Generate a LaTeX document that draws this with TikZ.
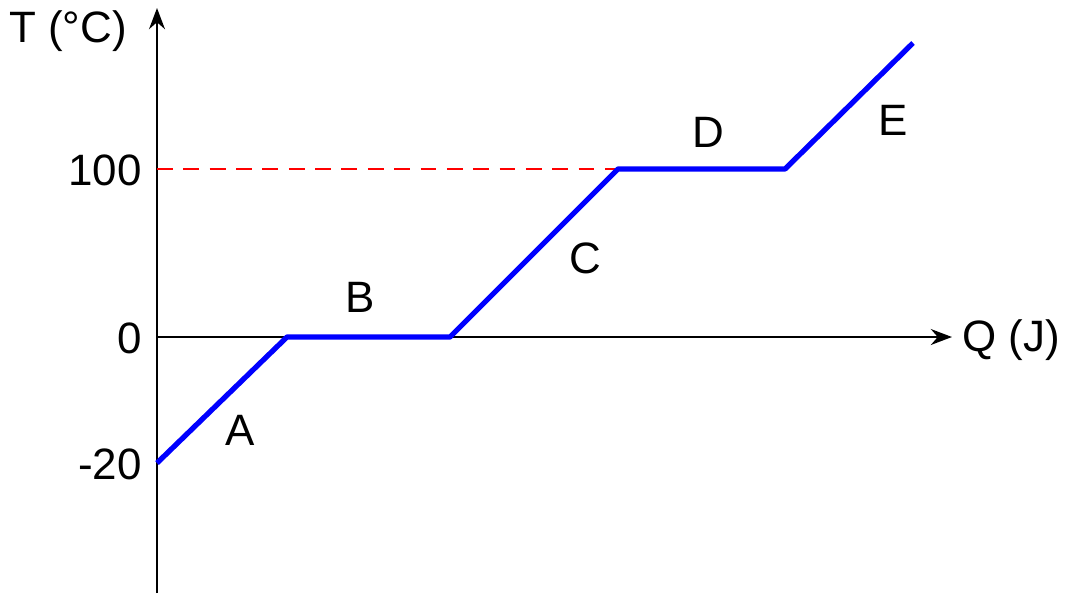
\documentclass[tikz,border=0pt]{standalone}
\usepackage{fontspec}
\setmainfont{Liberation Sans}
\usetikzlibrary{arrows.meta}
\begin{document}
\begin{tikzpicture}[x=0.02cm,y=-0.02cm,
  lbl/.style={font=\fontsize{25}{28}\selectfont,inner sep=0pt},
  ax/.style={line width=1.6pt,-{Stealth[length=12pt,width=9pt]}},
  curve/.style={blue,line width=3pt,line join=round}]
\useasboundingbox (0,0) rectangle (1074,596);
\coordinate (o) at (157,337);
\coordinate (ybot) at (157,593);
\coordinate (ytop) at (157,8);
\coordinate (xend) at (952,337);
\coordinate (p0) at (157,463);
\coordinate (p1) at (287,337);
\coordinate (p2) at (450,337);
\coordinate (p3) at (618,169);
\coordinate (p4) at (785,169);
\coordinate (p5) at (913,43);
\coordinate (d0) at (157,169);
\draw[ax] (ybot) -- (ytop);
\draw[ax] (o) -- (xend);
\draw[red,dashed,line width=1.5pt,dash pattern=on 9pt off 6pt] (d0) -- (p3);
\draw[curve] (p0) -- (p1) -- (p2) -- (p3) -- (p4) -- (p5);
\node[lbl] (t) at (68,31) {T (°C)};
\node[lbl,anchor=east] (l100) at (142,170) {100};
\node[lbl,anchor=east] (l0) at (142,338) {0};
\node[lbl,anchor=east] (l20) at (142,464) {-20};
\node[lbl,anchor=west] (q) at (962,340) {Q (J)};
\node[lbl] (A) at (240,430) {A};
\node[lbl] (B) at (360,297) {B};
\node[lbl] (C) at (585,258) {C};
\node[lbl] (D) at (708,132) {D};
\node[lbl] (E) at (893,120) {E};
\end{tikzpicture}
\end{document}
